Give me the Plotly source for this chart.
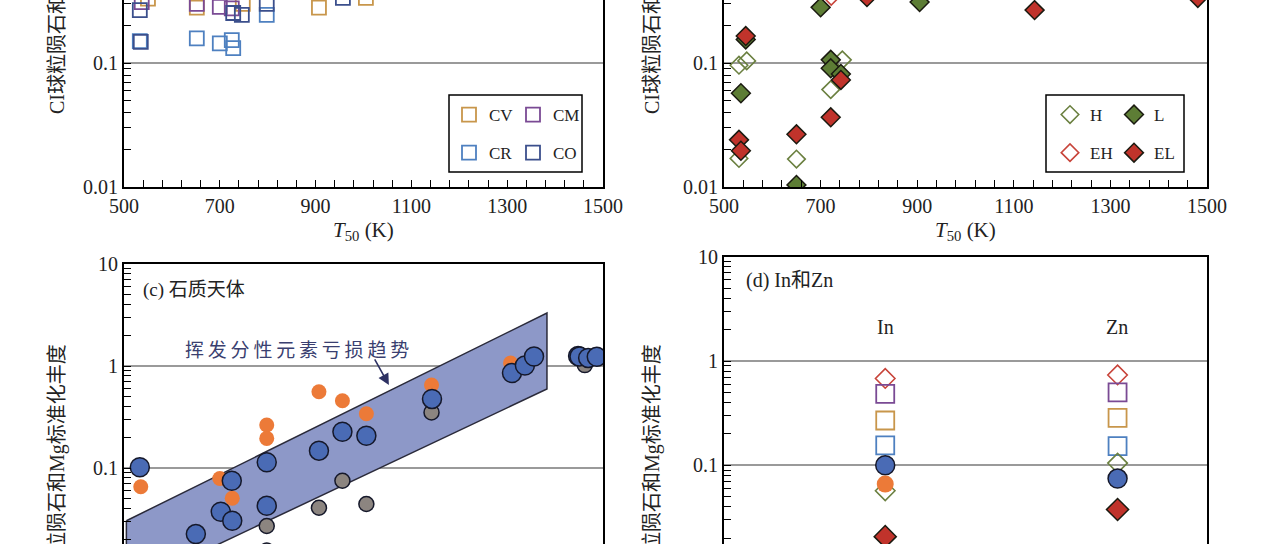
import plotly.graph_objects as go

W, H = 1275, 544

# ---------------- panel (a): carbonaceous chondrites ----------------
cv_t = [550, 652, 748, 907, 1005]
cv_v = [0.33, 0.28, 0.30, 0.28, 0.335]
cm_t = [537, 652, 700, 725]
cm_v = [0.31, 0.30, 0.284, 0.276]
cr_t = [533, 652, 700, 725, 728, 798]
cr_v = [0.150, 0.158, 0.144, 0.153, 0.132, 0.244]
co_t = [533, 535, 728, 746, 798, 957]
co_v = [0.267, 0.148, 0.253, 0.244, 0.30, 0.335]

# ---------------- panel (b): ordinary / enstatite chondrites ----------------
h_t = [531, 547, 531, 650, 721, 745]
h_v = [0.096, 0.104, 0.017, 0.0168, 0.061, 0.106]
l_t = [545, 535, 650, 700, 721, 721, 742, 905]
l_v = [0.155, 0.057, 0.0104, 0.281, 0.106, 0.0906, 0.0815, 0.31]
eh_t = [722]
eh_v = [0.345]
el_t = [545, 531, 535, 650, 721, 742, 796, 1143, 1481]
el_v = [0.165, 0.024, 0.0196, 0.0266, 0.0365, 0.073, 0.34, 0.267, 0.335]

# ---------------- panel (c): rocky bodies ----------------
orange_t = [535, 700, 726, 798, 798, 907, 956, 1006, 1142, 1307, 1470]
orange_v = [0.0656, 0.079, 0.0505, 0.264, 0.195, 0.56, 0.457, 0.340, 0.652, 1.07, 1.15]
gray_t = [798, 798, 907, 956, 1006, 1142, 1462]
gray_v = [0.027, 0.0155, 0.0408, 0.075, 0.0444, 0.351, 1.02]
blue_t = [533, 725, 702, 726, 650, 798, 798, 907, 956, 1006, 1143,
          1310, 1337, 1356, 1448, 1451, 1469, 1487]
blue_v = [0.1016, 0.075, 0.0373, 0.0304, 0.0225, 0.114, 0.0427, 0.148, 0.227, 0.207, 0.476,
          0.855, 1.01, 1.24, 1.25, 1.24, 1.2, 1.23]
band_t = [505, 1383, 1383, 505, 505]
band_v = [0.0304, 3.31, 0.595, 0.0067, 0.0304]

# ---------------- panel (d): In and Zn ----------------
elements = ["In", "Zn"]
d_eh = [0.68, 0.735]
d_cm = [0.484, 0.50]
d_cv = [0.269, 0.285]
d_cr = [0.155, 0.153]
d_h = [0.057, 0.105]
d_blue = [0.10, 0.0746]
d_orange = [0.066]
d_el = [0.0207, 0.0377]

C_CV, C_CM, C_CR, C_CO = "#c8964b", "#7a4a94", "#4e80c0", "#3b4f8c"
C_H, C_L, C_EH, C_EL = "#6b8040", "#5d7d35", "#c8443a", "#c0332b"
C_OR, C_GR, C_BL = "#ec7a38", "#8c8580", "#4a6bb5"

SERIF = "Liberation Serif, Noto Sans CJK SC"
tick_font = dict(family=SERIF, size=20, color="#222")


def px_x(p):
    return p / W


def px_y(p):
    return 1 - p / H


fig = go.Figure()


def open_sq(x, y, color, name, xa, ya, size=14, legend=None):
    fig.add_trace(go.Scatter(
        x=x, y=y, mode="markers", name=name, xaxis=xa, yaxis=ya,
        marker=dict(symbol="square-open", size=size, color=color, line=dict(width=1.8, color=color)),
        showlegend=legend is not None, legend=legend or "legend", legendgroup=name))


def diamond(x, y, color, name, xa, ya, filled, size=13.5, legend=None):
    if filled:
        m = dict(symbol="diamond", size=size, color=color, line=dict(width=1.5, color="#1a1a10"))
    else:
        m = dict(symbol="diamond-open", size=size, color=color, line=dict(width=1.6, color=color))
    fig.add_trace(go.Scatter(
        x=x, y=y, mode="markers", name=name, xaxis=xa, yaxis=ya, marker=m,
        showlegend=legend is not None, legend=legend or "legend", legendgroup=name))


def circle(x, y, color, xa, ya, size, outline):
    fig.add_trace(go.Scatter(
        x=x, y=y, mode="markers", xaxis=xa, yaxis=ya, showlegend=False,
        marker=dict(symbol="circle", size=size, color=color,
                    line=dict(width=1.5 if outline else 0, color="#15182a"))))


# panel a
open_sq(cv_t, cv_v, C_CV, "CV", "x", "y", legend="legend")
open_sq(cr_t, cr_v, C_CR, "CR", "x", "y", legend="legend")
open_sq(cm_t, cm_v, C_CM, "CM", "x", "y", legend="legend2")
open_sq(co_t, co_v, C_CO, "CO", "x", "y", legend="legend2")

# panel b
diamond(h_t, h_v, C_H, "H", "x2", "y2", False, legend="legend3")
diamond(eh_t, eh_v, C_EH, "EH", "x2", "y2", False, legend="legend3")
diamond(l_t, l_v, C_L, "L", "x2", "y2", True, size=14.5, legend="legend4")
diamond(el_t, el_v, C_EL, "EL", "x2", "y2", True, size=14.5, legend="legend4")

# panel c
fig.add_trace(go.Scatter(x=band_t, y=band_v, mode="lines", fill="toself", xaxis="x3", yaxis="y3",
                         fillcolor="#8d98c8", line=dict(color="#2a2a3a", width=1.5), showlegend=False))
circle(orange_t, orange_v, C_OR, "x3", "y3", 15, False)
circle(gray_t, gray_v, C_GR, "x3", "y3", 15, True)
circle(blue_t, blue_v, C_BL, "x3", "y3", 19, True)

# panel d
diamond(elements, d_eh, C_EH, "EH", "x4", "y4", False, size=15)
open_sq(elements, d_cm, C_CM, "CM", "x4", "y4", size=18)
open_sq(elements, d_cv, C_CV, "CV", "x4", "y4", size=18)
open_sq(elements, d_cr, C_CR, "CR", "x4", "y4", size=18)
diamond(elements, d_h, C_H, "H", "x4", "y4", False, size=15)
circle(elements, d_blue, C_BL, "x4", "y4", 19, True)
circle(elements[:1], d_orange, C_OR, "x4", "y4", 17, False)
diamond(elements, d_el, C_EL, "EL", "x4", "y4", True, size=17)

decades = [0.001, 0.01, 0.1, 1, 10]
dec_text = ["0.001", "0.01", "0.1", "1", "10"]
minor_vals = [m * d for d in decades[:-1] for m in range(2, 10)]


def log_axis(rng, top, anchor):
    return dict(type="log", range=rng, domain=[0, top] if top < 1 else [px_y(187), 1], anchor=anchor,
                tickmode="array", tickvals=decades, ticktext=dec_text,
                ticks="inside", ticklen=7, tickwidth=1.3, tickcolor="black",
                minor=dict(tickmode="array", tickvals=minor_vals, ticks="inside", ticklen=7,
                           tickwidth=1.3, tickcolor="black", showgrid=False),
                showgrid=True, gridcolor="#9a9a9a", gridwidth=1.5,
                showline=True, linecolor="black", linewidth=2, mirror=True,
                zeroline=False, tickfont=tick_font, automargin=False)


def t_axis(x0, x1, anchor):
    return dict(range=[500, 1500], domain=[px_x(x0), px_x(x1)], anchor=anchor,
                tickmode="array", tickvals=[500, 700, 900, 1100, 1300, 1500],
                ticks="inside", ticklen=7, tickwidth=1.3, tickcolor="black",
                minor=dict(tickmode="linear", tick0=500, dtick=40, ticks="inside", ticklen=7,
                           tickwidth=1.3, tickcolor="black"),
                showline=True, linecolor="black", linewidth=2, showgrid=False, zeroline=False,
                tickfont=tick_font, automargin=False)


def top_axis(x0, x1, anchor, **kw):
    return dict(domain=[px_x(x0), px_x(x1)], anchor=anchor, side="top", showline=True,
                linecolor="black", linewidth=2, ticks="", showticklabels=False,
                showgrid=False, zeroline=False, automargin=False, **kw)


leg = dict(font=dict(family=SERIF, size=17, color="#222"), bgcolor="rgba(0,0,0,0)",
           traceorder="grouped", tracegroupgap=13, xanchor="left", yanchor="top",
           itemclick=False)

fig.update_layout(
    width=W, height=H, autosize=False,
    margin=dict(l=0, r=0, t=0, b=0, pad=0, autoexpand=False),
    paper_bgcolor="white", plot_bgcolor="white",
    xaxis=t_axis(124, 603, "y"),
    yaxis=log_axis([-2, -2 + 187 / 124], 1, "x"),
    xaxis2=t_axis(724, 1207, "y2"),
    yaxis2=log_axis([-2, -2 + 187 / 124], 1, "x2"),
    xaxis3=top_axis(124, 603, "y3", range=[500, 1500]),
    yaxis3=log_axis([1 - 280 / 102, 1], px_y(264), "x3"),
    xaxis4=top_axis(724, 1207, "y4", type="category", categoryarray=elements,
                    categoryorder="array", range=[-0.694, 1.385]),
    yaxis4=log_axis([1 - 287.3 / 104.3, 1], px_y(256.7), "x4"),
    legend=dict(leg, x=px_x(449), y=px_y(97)),
    legend2=dict(leg, x=px_x(513), y=px_y(97)),
    legend3=dict(leg, x=px_x(1050), y=px_y(97)),
    legend4=dict(leg, x=px_x(1114), y=px_y(97)),
    showlegend=True,
)

# legend frames
for x0, x1 in [(449, 582), (1046, 1184)]:
    fig.add_shape(type="rect", xref="paper", yref="paper",
                  x0=px_x(x0), x1=px_x(x1), y0=px_y(172), y1=px_y(95),
                  line=dict(color="black", width=1.5))


def note(text, xp, yp, size=20, family=SERIF, color="#222", xanchor="center", **kw):
    fig.add_annotation(text=text, xref="paper", yref="paper", x=px_x(xp), y=px_y(yp),
                       xanchor=xanchor, yanchor="middle", showarrow=False,
                       font=dict(family=family, size=size, color=color), **kw)


ytitle = "CI球粒陨石和Mg标准化丰度"
for xp, yp in [(57, -10), (652, -10), (57, 468), (652, 468)]:
    note(ytitle, xp, yp, textangle=-90)

for xp in [364, 965]:
    note("<i>T</i><sub>50</sub> (K)", xp, 231, size=21)

note("(c) 石质天体", 141, 290, size=19, xanchor="left")
note("(d) In和Zn", 744, 280, xanchor="left")
for el, xp in zip(elements, [885, 1117]):
    note(el, xp, 327)

note("\u2009".join("挥发分性元素亏损趋势"), 297, 348, size=19,
     family="Noto Sans CJK SC", color="#3a3f70")
fig.add_annotation(x=1053, y=-0.186, xref="x3", yref="y3", ax=-15, ay=-27, text="",
                   showarrow=True, arrowhead=2, arrowsize=1.4, arrowwidth=1.6, arrowcolor="#2d3163")

fig.write_html("out.html", config={"displayModeBar": False},
               post_script="document.body.style.margin = '0px';")
